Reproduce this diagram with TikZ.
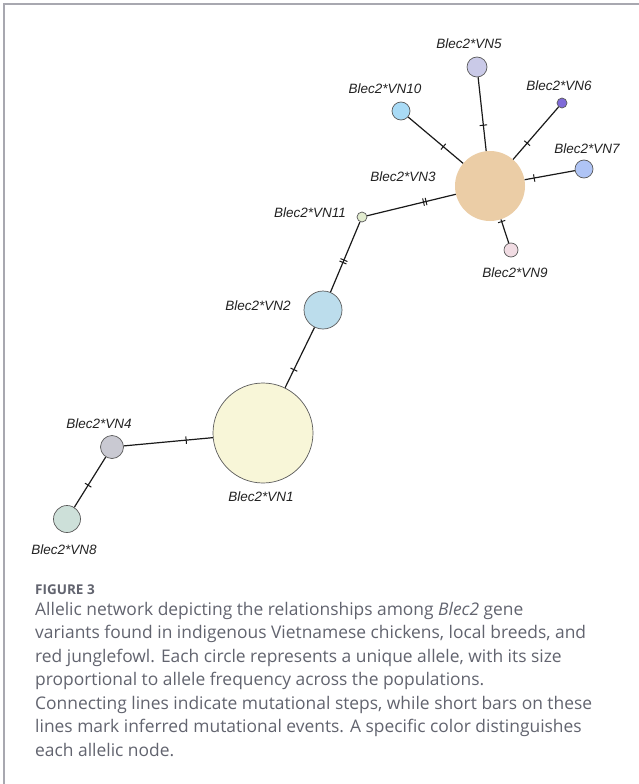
\documentclass[tikz,border=0pt]{standalone}
\usepackage{fontspec}
\setmainfont{Liberation Sans}
\newfontfamily\capfont{Open Sans}
\definecolor{edgegray}{HTML}{5A5A5A}
\definecolor{linec}{HTML}{1A1A1A}
\definecolor{labelc}{HTML}{222222}
\definecolor{capc}{HTML}{62646F}
\definecolor{framec}{HTML}{A8A8B0}
\definecolor{cvnone}{HTML}{F8F6D8}
\definecolor{cvntwo}{HTML}{BCDDEC}
\definecolor{cvnthree}{HTML}{EBCDA6}
\definecolor{cvnfour}{HTML}{C9C9D2}
\definecolor{cvnfive}{HTML}{CACAE8}
\definecolor{cvnsix}{HTML}{7F6AD8}
\definecolor{cvnseven}{HTML}{AFC4F5}
\definecolor{cvneight}{HTML}{CDE0D9}
\definecolor{cvnnine}{HTML}{F1DCE3}
\definecolor{cvnten}{HTML}{A9DBF6}
\definecolor{cvneleven}{HTML}{E2ECCF}
\newcommand\onetick{\rule{1pt}{7.5pt}}
\newcommand\twotick{\rule{1pt}{7.5pt}\kern1.6pt\rule{1pt}{7.5pt}}
\begin{document}
\begin{tikzpicture}[x=1pt,y=-1pt,
  allele/.style={circle, draw=edgegray, line width=0.7pt, inner sep=0pt, minimum size=#1},
  lbl/.style={font=\itshape\fontsize{13.5}{16}\selectfont, text=labelc, inner sep=0pt},
  link/.style={line width=1.2pt, draw=linec},
  tk/.style={sloped, inner sep=0pt, pos=#1, text=linec},
  capline/.style={anchor=base west, inner sep=0pt, text=capc, font=\capfont\fontsize{17.4}{20}\selectfont}
]
\fill[white] (0,0) rectangle (639,784);
\useasboundingbox (0,0) rectangle (639,784);
\draw[framec, line width=1.4pt] (4,784) -- (4,4) -- (639,4);

% alleles
\node[allele=100pt, fill=cvnone] (vn1) at (263,433) {};
\node[allele=38pt, fill=cvntwo] (vn2) at (323,310) {};
\node[circle, inner sep=0pt, minimum size=70pt, fill=cvnthree] (vn3) at (490,186) {};
\node[allele=23pt, fill=cvnfour] (vn4) at (112,447) {};
\node[allele=20pt, fill=cvnfive] (vn5) at (477,67) {};
\node[allele=10pt, fill=cvnsix] (vn6) at (562,103) {};
\node[allele=18pt, fill=cvnseven] (vn7) at (584,169) {};
\node[allele=27pt, fill=cvneight] (vn8) at (67,519) {};
\node[allele=14pt, fill=cvnnine] (vn9) at (511,250) {};
\node[allele=18pt, fill=cvnten] (vn10) at (401,111) {};
\node[allele=10pt, fill=cvneleven] (vn11) at (362,217) {};

% links
\draw[link] (vn3) -- node[tk=0.35]{\onetick} (vn5);
\draw[link] (vn3) -- node[tk=0.36]{\onetick} (vn10);
\draw[link] (vn3) -- node[tk=0.31]{\onetick} (vn6);
\draw[link] (vn3) -- node[tk=0.19]{\onetick} (vn7);
\draw[link] (vn3) -- node[tk=0.09]{\onetick} (vn9);
\draw[link] (vn3) -- node[tk=0.35]{\twotick} (vn11);
\draw[link] (vn11) -- node[tk=0.56]{\twotick} (vn2);
\draw[link] (vn2) -- node[tk=0.70]{\onetick} (vn1);
\draw[link] (vn1) -- node[tk=0.30]{\onetick} (vn4);
\draw[link] (vn4) -- node[tk=0.56]{\onetick} (vn8);

% labels
\node[lbl] (l5) at (469,44) {Blec2*VN5};
\node[lbl] (l10) at (385,89) {Blec2*VN10};
\node[lbl] (l6) at (559,86) {Blec2*VN6};
\node[lbl] (l7) at (587,149) {Blec2*VN7};
\node[lbl] (l3) at (403,177) {Blec2*VN3};
\node[lbl] (l9) at (515,273) {Blec2*VN9};
\node[lbl] (l11) at (310,213) {Blec2*VN11};
\node[lbl] (l2) at (258,306) {Blec2*VN2};
\node[lbl] (l1) at (261,497) {Blec2*VN1};
\node[lbl] (l4) at (99,424) {Blec2*VN4};
\node[lbl] (l8) at (64,550) {Blec2*VN8};

% caption
\node[capline, font=\capfont\bfseries\fontsize{13.5}{16}\selectfont] (fig) at (35,594) {FIGURE 3};
\node[capline] (c1) at (35,615) {Allelic network depicting the relationships among \textit{Blec2} gene};
\node[capline] (c2) at (35,638.5) {variants found in indigenous Vietnamese chickens, local breeds, and};
\node[capline] (c3) at (35,662) {red junglefowl. Each circle represents a unique allele, with its size};
\node[capline] (c4) at (35,685.5) {proportional to allele frequency across the populations.};
\node[capline] (c5) at (35,709) {Connecting lines indicate mutational steps, while short bars on these};
\node[capline] (c6) at (35,732.5) {lines mark inferred mutational events. A specific color distinguishes};
\node[capline] (c7) at (35,756) {each allelic node.};
\end{tikzpicture}
\end{document}
